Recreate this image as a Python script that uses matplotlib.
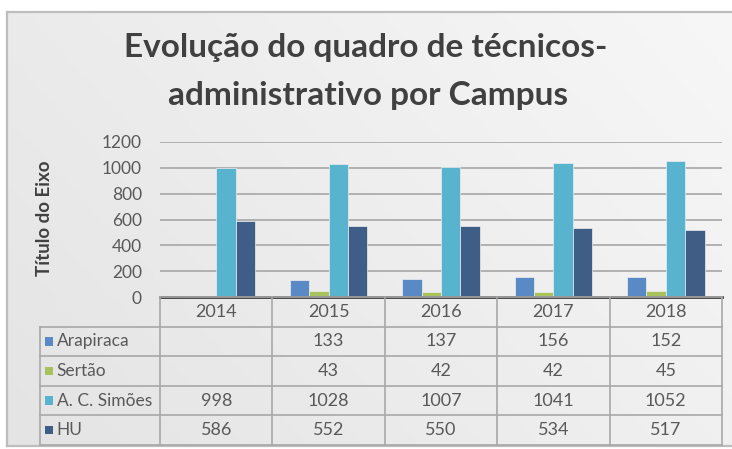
import numpy as np
import matplotlib.pyplot as plt
from matplotlib.colors import LinearSegmentedColormap
from matplotlib.patches import Rectangle

plt.rcParams['font.family'] = ['Lato', 'DejaVu Sans']

years = ['2014', '2015', '2016', '2017', '2018']
campi = ['Arapiraca', 'Sertão', 'A. C. Simões', 'HU']
arapiraca = [np.nan, 133, 137, 156, 152]
sertao = [np.nan, 43, 42, 42, 45]
simoes = [998, 1028, 1007, 1041, 1052]
hu = [586, 552, 550, 534, 517]
series = [arapiraca, sertao, simoes, hu]
colors = ['#5A8AC6', '#A8C25C', '#57B3CE', '#3E5E88']
yticks = [0, 200, 400, 600, 800, 1000, 1200]

W, H = 732, 449
fig = plt.figure(figsize=(W / 100, H / 100), dpi=100)
fig.patch.set_facecolor('white')


def fx(px):
    return px / W


def fy(py):
    return 1 - py / H


# chart area with a soft gray gradient and a thin border
bg = fig.add_axes([fx(7), fy(446), fx(740 - 7), (446 - 12) / H])
gx = np.linspace(0, 1, 200)
gy = np.linspace(0, 1, 120)
GX, GY = np.meshgrid(gx, gy)
grad = 0.65 * GX + 0.35 * (1 - GY)
cmap = LinearSegmentedColormap.from_list('bg', ['#E4E4E4', '#F7F7F7'])
bg.imshow(grad, cmap=cmap, aspect='auto', extent=[0, 1, 0, 1], origin='upper')
bg.set_xlim(0, 1)
bg.set_ylim(0, 1)
bg.set_xticks([])
bg.set_yticks([])
for s in bg.spines.values():
    s.set_color('#BDBDBD')
    s.set_linewidth(1.6)

txt = '#404040'
fig.text(fx(366), fy(47), 'Evolução do quadro de técnicos-', ha='center', va='center',
         fontsize=24, fontweight='bold', color=txt)
fig.text(fx(368), fy(95), 'administrativo por Campus', ha='center', va='center',
         fontsize=24, fontweight='bold', color=txt)
fig.text(fx(45), fy(218), 'Título do Eixo', rotation=90, ha='center', va='center',
         fontsize=13.5, fontweight='bold', color=txt)

# bar chart
ax = fig.add_axes([fx(160), fy(297), fx(722 - 160), (297 - 142) / H])
ax.patch.set_alpha(0)
x = np.arange(len(years))
bw = 0.173
for i, (vals, c) in enumerate(zip(series, colors)):
    ax.bar(x + (i - 1.5) * bw, vals, width=bw, color=c, edgecolor='#EEEEEE',
           linewidth=0.5, zorder=3)
ax.set_xlim(-0.5, len(years) - 0.5)
ax.set_ylim(0, 1200)
ax.set_yticks(yticks)
ax.set_yticklabels([str(t) for t in yticks], fontsize=12.5, color='#595959')
ax.set_xticks([])
ax.tick_params(axis='y', length=0, pad=13)
ax.grid(axis='y', color='#ACACAC', linewidth=1.3, zorder=0)
for side in ['top', 'right', 'left']:
    ax.spines[side].set_visible(False)
ax.spines['bottom'].set_color('#3A3A3A')
ax.spines['bottom'].set_linewidth(2)
ax.spines['bottom'].set_zorder(5)

# data table below the plot
label_w = 120 / 112.4
tb = fig.add_axes([fx(40), fy(445), fx(722 - 40), (445 - 297) / H])
tb.patch.set_alpha(0)
tb.set_xlim(-0.5 - label_w, len(years) - 0.5)
tb.set_ylim(0, 5)
tb.axis('off')
lc = '#A8A8A8'
lw = 1.2
n = len(years)
# horizontal lines
for r in range(5):
    tb.plot([-0.5 - label_w, n - 0.5], [r, r], color=lc, lw=lw, clip_on=False)
tb.plot([-0.5, n - 0.5], [5, 5], color=lc, lw=lw, clip_on=False)
# vertical lines
tb.plot([-0.5 - label_w] * 2, [0, 4], color=lc, lw=lw, clip_on=False)
for j in range(n + 1):
    tb.plot([j - 0.5] * 2, [0, 5], color=lc, lw=lw, clip_on=False)

cell = '#595959'
fs = 13
for j, yr in enumerate(years):
    tb.text(j, 4.5, yr, ha='center', va='center', fontsize=fs, color=cell)
for r, (name, vals, c) in enumerate(zip(campi, series, colors)):
    yc = 3.5 - r
    tb.add_patch(Rectangle((-0.5 - label_w + 0.045, yc - 0.14), 0.075, 0.28,
                           facecolor=c, edgecolor='none'))
    tb.text(-0.5 - label_w + 0.15, yc, name, ha='left', va='center',
            fontsize=12.5, color=cell)
    for j, v in enumerate(vals):
        if not np.isnan(v):
            tb.text(j, yc, f'{v:.0f}', ha='center', va='center', fontsize=fs, color=cell)

fig.savefig('out.png', dpi=100)
